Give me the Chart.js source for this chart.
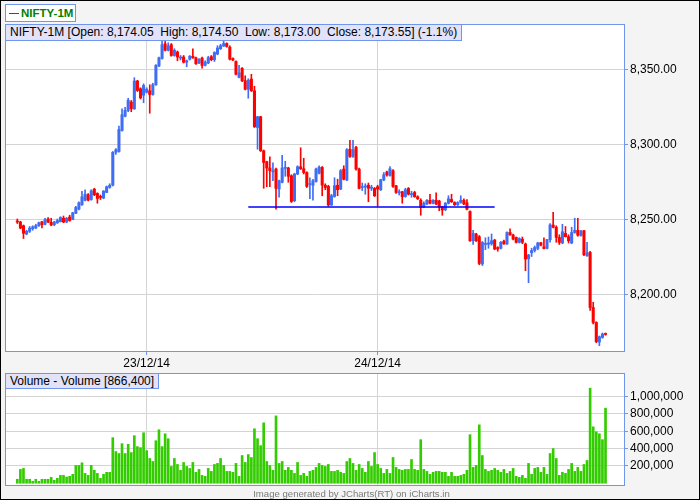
<!DOCTYPE html>
<html>
<head>
<meta charset="utf-8">
<title>NIFTY-1M</title>
<script src="https://cdn.jsdelivr.net/npm/chart.js@4.4.1/dist/chart.umd.min.js"></script>
<style>
  html, body { margin: 0; padding: 0; }
  body {
    width: 700px; height: 500px; position: relative; overflow: hidden;
    background: #f4f4f4; font-family: "Liberation Sans", Arial, sans-serif;
  }
  #frame { position: absolute; left: 0; top: 0; width: 698px; height: 498px; border: 1px solid #000; z-index: 9; pointer-events: none; }
  canvas { position: absolute; left: 0; }
  #priceChart { top: 0; }
  #volChart { top: 360px; }
  .tag {
    position: absolute; box-sizing: border-box; z-index: 5;
    background: #e2e2f8; border: 1px solid #6f96ec;
    font-size: 12px; line-height: 15px; color: #000; white-space: pre; padding: 0 4px;
  }
  #title {
    position: absolute; left: 5px; top: 4px; width: 71px; height: 18px; box-sizing: border-box;
    background: #fff; border: 1px solid #6f96ec; z-index: 5;
    color: #008000; font-weight: bold; font-size: 11.5px; line-height: 16px; padding-left: 3px; white-space: pre;
  }
  #title .dash { display: inline-block; width: 10px; height: 1px; background: #008000; vertical-align: middle; margin-right: 2px; }
  #footer { position: absolute; left: 0; width: 703px; top: 488px; text-align: center; font-size: 9.6px; color: #7a7a7a; z-index: 5; }
</style>
</head>
<body>
<div id="frame"></div>
<canvas id="priceChart" width="700" height="375"></canvas>
<canvas id="volChart" width="700" height="140"></canvas>
<div id="title"><span class="dash"></span>NIFTY-1M</div>
<div class="tag" style="left:5px; top:24px; height:17px;">NIFTY-1M [Open: 8,174.05  High: 8,174.50  Low: 8,173.00  Close: 8,173.55] (-1.1%)</div>
<div class="tag" style="left:5px; top:373px; height:16px;">Volume - Volume [866,400]</div>
<div id="footer">Image generated by JCharts(RT) on iCharts.in</div>
<script>
// 5 minute candles, 22/12 (last part) to 24/12/14
const opens = [
  8249, 8248.5, 8246, 8240.5, 8242.3, 8244, 8244.5, 8246, 8248.7, 8247,
  8250.5, 8248.3, 8246.7, 8248, 8248.7, 8251, 8248.5, 8251.8, 8250.2, 8254.2,
  8257.1, 8260, 8263, 8266.7, 8263.5, 8270.4, 8267.5, 8265.2, 8264.5, 8268.2,
  8271.5, 8273.1, 8295, 8295.5, 8309.5, 8319, 8322.9, 8328.5, 8324, 8342.5,
  8337.3, 8333, 8335, 8336, 8333.5, 8340, 8352.5, 8357.5, 8367.3, 8363,
  8366.7, 8359.5, 8361.8, 8357.8, 8358.5, 8355, 8357, 8359, 8358, 8354.5,
  8357.8, 8353, 8354.5, 8358.7, 8356.7, 8360.5, 8364, 8365.8, 8367.5, 8365,
  8357.5, 8355.5, 8345, 8351, 8342.7, 8337, 8343.8, 8336, 8311.5, 8318.7,
  8296, 8288.7, 8284.5, 8282, 8283.8, 8270.5, 8275, 8284.3, 8284.5, 8279.3,
  8262.7, 8280.5, 8285.3, 8284, 8281.5, 8273.5, 8273, 8275.5, 8281, 8284.9,
  8273, 8272.2, 8259.8, 8265.5, 8273, 8270.5, 8283.8, 8276.5, 8297, 8292.2,
  8298.2, 8283.8, 8271.5, 8271.8, 8273, 8271, 8270.9, 8272, 8270, 8276.5,
  8281.8, 8279.5, 8282.7, 8272.7, 8268, 8268.7, 8265.5, 8270.9, 8266.8, 8268.2,
  8265.3, 8263, 8258.5, 8260.5, 8263, 8261, 8263, 8262.5, 8258.7, 8256.7,
  8261, 8263.5, 8261.5, 8260, 8261.5, 8263, 8261.3, 8255.5, 8236, 8240.5,
  8238.7, 8220.5, 8233.5, 8233.7, 8234, 8236.4, 8231.5, 8231, 8235.7, 8233.8,
  8241.5, 8239.8, 8238.2, 8234.9, 8237, 8233.8, 8224, 8228, 8229.5, 8230.9,
  8234.7, 8232, 8230.9, 8236.7, 8246.5, 8245, 8238.2, 8234.5, 8240.9, 8238.7,
  8234.5, 8241.5, 8243, 8239.5, 8242.7, 8226, 8228.2, 8191.5, 8181.5, 8168.5,
  8171.5, 8174.05
];
const highs = [
  8250.5, 8249, 8246.5, 8243, 8245.5, 8246, 8247, 8248.5, 8249, 8251,
  8251.5, 8251, 8249, 8250.5, 8252, 8252.5, 8251.5, 8253, 8255, 8259,
  8262, 8268.9, 8270, 8267.5, 8270, 8271, 8268, 8266.5, 8269.5, 8272.5,
  8274, 8295.5, 8297.5, 8312.5, 8324, 8325, 8331, 8329.5, 8344.7, 8343,
  8338, 8340.6, 8338, 8340, 8341, 8353.5, 8358.5, 8369, 8369, 8368,
  8367.5, 8364, 8362.5, 8359.5, 8359.5, 8356.5, 8359.5, 8364, 8358.5, 8357.5,
  8358.5, 8356, 8359, 8359.5, 8362, 8366, 8367, 8370, 8368, 8366,
  8358, 8356, 8353, 8351.5, 8346, 8344, 8347, 8339, 8319, 8319,
  8296.5, 8289, 8292, 8288, 8284.5, 8276.5, 8293, 8289, 8285, 8280,
  8281, 8286, 8298, 8291, 8282, 8278, 8277, 8284.5, 8286, 8285.5,
  8274, 8273, 8267, 8278, 8277, 8283.5, 8286, 8297.5, 8303, 8303,
  8299, 8284.5, 8274.5, 8274, 8274.5, 8273, 8271.5, 8273, 8277, 8281.5,
  8282.5, 8285.5, 8283.5, 8273, 8270, 8269, 8271, 8271.5, 8269, 8269,
  8266, 8264, 8262, 8263.5, 8267, 8263.5, 8268, 8263, 8259, 8261.5,
  8266, 8267, 8262, 8262, 8266, 8264, 8263.5, 8256, 8243, 8241,
  8239.5, 8235.5, 8238, 8238.5, 8240.5, 8237, 8232, 8235.5, 8236.5, 8242,
  8244, 8240.5, 8238.5, 8238, 8238.5, 8234.5, 8227, 8231, 8232.5, 8235,
  8235, 8238, 8237, 8247.5, 8255, 8246, 8240, 8247, 8245.5, 8240,
  8245, 8251, 8251, 8243, 8243, 8235, 8229, 8195, 8182, 8172.5,
  8174.5, 8174.5
];
const lows = [
  8247.5, 8244, 8237.5, 8240, 8241.5, 8243, 8244, 8245.5, 8244.5, 8246.5,
  8248, 8246, 8246, 8247.5, 8248.5, 8248, 8248, 8249, 8250, 8254,
  8256.5, 8259.5, 8262.5, 8262.5, 8263, 8266, 8261, 8263.5, 8264, 8268,
  8271, 8272.5, 8293.5, 8295, 8309, 8318.5, 8322, 8322, 8323.5, 8335.5,
  8330.5, 8328, 8334.5, 8321, 8333, 8339.5, 8352, 8357, 8362.5, 8362.5,
  8359, 8359, 8356, 8356.5, 8354.5, 8352, 8356.5, 8357.5, 8353.5, 8354,
  8351, 8352.5, 8354, 8356, 8355.5, 8360, 8363.5, 8365.5, 8365, 8356.5,
  8356, 8346.5, 8344.5, 8342, 8336.5, 8331, 8335.5, 8311.5, 8297, 8295.5,
  8271, 8272, 8272, 8276, 8257, 8265, 8274.5, 8279, 8275, 8261.5,
  8262, 8280, 8283.5, 8280.5, 8271.5, 8264, 8263, 8275, 8280.5, 8266,
  8270, 8259, 8259.5, 8265, 8266, 8270, 8276.5, 8276, 8291.5, 8291.5,
  8283, 8270.5, 8269.5, 8267, 8262, 8269.5, 8265.5, 8259, 8269.5, 8276,
  8279, 8279, 8271.5, 8267.5, 8266.5, 8261, 8265, 8266.5, 8265, 8265,
  8263.5, 8253, 8258, 8260, 8260.5, 8260.5, 8260, 8256, 8253, 8256,
  8260.5, 8261.5, 8259.5, 8259.5, 8261, 8260, 8256.5, 8235.5, 8233.5, 8235.5,
  8220, 8219.5, 8230, 8231, 8233, 8230, 8229, 8230.5, 8233.5, 8233.5,
  8239.5, 8236.5, 8234.5, 8234.5, 8234, 8216, 8208, 8225.5, 8228.5, 8230,
  8232.5, 8230.5, 8230.5, 8235, 8244.5, 8235, 8233.5, 8234, 8238.5, 8234.5,
  8234, 8241, 8239, 8239, 8226, 8225.5, 8189.5, 8180.5, 8168, 8166,
  8171, 8173
];
const closes = [
  8248.5, 8244.5, 8241, 8242.3, 8244.4, 8245.3, 8246, 8248, 8246.7, 8250,
  8248.5, 8246.5, 8248.5, 8249.5, 8251.5, 8248.5, 8251, 8249.5, 8254.7, 8258.2,
  8261.3, 8265.3, 8267, 8263.1, 8269.3, 8266.7, 8264.2, 8264.9, 8269, 8272,
  8273, 8294.9, 8296.7, 8310.2, 8320, 8322.9, 8329.7, 8324, 8342.5, 8336.2,
  8331.3, 8339.5, 8337, 8333.5, 8340, 8352.9, 8358, 8366.7, 8363, 8366,
  8359.5, 8363, 8358.5, 8358.2, 8355, 8356, 8359, 8358, 8354, 8357,
  8352.9, 8355, 8358, 8356.7, 8361.5, 8364.5, 8366, 8367.5, 8365.5, 8357,
  8356.5, 8347, 8348, 8342.7, 8337, 8343, 8336, 8312, 8318.7, 8296,
  8288.2, 8284.5, 8282.7, 8282.3, 8270.9, 8276, 8284.5, 8284.6, 8279, 8262.2,
  8280.5, 8285.3, 8284, 8281.5, 8272.2, 8274, 8276, 8283.8, 8285, 8273.1,
  8271.5, 8259.8, 8266, 8272.7, 8270, 8282.7, 8277, 8296.7, 8292.2, 8296.7,
  8283.8, 8270.9, 8272, 8272.2, 8271, 8271.3, 8266, 8270.5, 8276.7, 8280,
  8279.9, 8284, 8272.2, 8268.2, 8268.3, 8265.3, 8270, 8267, 8267, 8265.3,
  8264, 8258.2, 8261, 8263, 8261, 8263, 8260.5, 8258.7, 8256.5, 8261,
  8264, 8262, 8260, 8261.5, 8263, 8260.5, 8257, 8236, 8240.9, 8236,
  8220.9, 8234.9, 8234.2, 8234.5, 8236, 8230.5, 8230.5, 8235, 8234, 8241.5,
  8240, 8237.1, 8234.9, 8237.5, 8235, 8223.8, 8226.5, 8229.5, 8231.5, 8234.5,
  8233, 8230.8, 8236.7, 8246.5, 8245, 8238.2, 8234.9, 8242, 8238.7, 8236,
  8241.5, 8243, 8239.7, 8242.5, 8226.7, 8228, 8191.5, 8181.5, 8168.7, 8172,
  8173.8, 8173.55
];
const volumes = [
  46000, 160000, 171000, 46000, 46000, 23000, 46000, 23000, 46000, 46000,
  46000, 69000, 34000, 57000, 91000, 91000, 72000, 80000, 103000, 206000,
  206000, 236000, 114000, 91000, 206000, 149000, 114000, 57000, 103000, 126000,
  126000, 526000, 366000, 343000, 457000, 343000, 450000, 354000, 549000, 423000,
  411000, 583000, 377000, 286000, 251000, 491000, 617000, 423000, 571000, 514000,
  194000, 286000, 217000, 149000, 240000, 194000, 171000, 240000, 126000, 160000,
  91000, 80000, 171000, 137000, 217000, 229000, 286000, 206000, 137000, 137000,
  126000, 229000, 80000, 320000, 240000, 331000, 297000, 629000, 514000, 434000,
  697000, 251000, 206000, 149000, 777000, 229000, 251000, 149000, 183000, 149000,
  114000, 240000, 91000, 114000, 80000, 137000, 149000, 183000, 229000, 206000,
  194000, 217000, 137000, 137000, 149000, 126000, 114000, 251000, 286000, 229000,
  149000, 217000, 171000, 126000, 251000, 194000, 354000, 217000, 171000, 114000,
  160000, 114000, 297000, 183000, 160000, 149000, 160000, 160000, 274000, 160000,
  149000, 503000, 160000, 137000, 103000, 126000, 137000, 137000, 126000, 126000,
  80000, 126000, 80000, 80000, 91000, 103000, 149000, 560000, 183000, 206000,
  674000, 320000, 160000, 137000, 149000, 171000, 149000, 126000, 160000, 114000,
  137000, 171000, 80000, 69000, 91000, 57000, 229000, 103000, 171000, 183000,
  126000, 183000, 103000, 343000, 400000, 286000, 91000, 126000, 114000, 160000,
  229000, 137000, 183000, 137000, 217000, 263000, 1097000, 651000, 594000, 571000,
  503000, 866400
];

const dayStarts = [42, 117];
const dayLabels = ['23/12/14', '24/12/14'];
const priceTicks = [8200, 8250, 8300, 8350];
const volumeTicks = [200000, 400000, 600000, 800000, 1000000];
const trendX = [75, 155];
const trendY = [8258.5, 8258.5];

const UP = '#3f6ef5';
const DOWN = '#ff0000';
const VOL = '#33cc00';
const FRAME = '#6f96ec';
const GRID = '#d4d4d4';

Chart.defaults.font.family = '"Liberation Sans", Arial, sans-serif';
Chart.defaults.font.size = 12;
Chart.defaults.color = '#000';

// white plot area and blue frame round it
const panelFrame = {
    id: 'panelFrame',
    beforeDraw(chart) {
        const { ctx, chartArea: a } = chart;
        ctx.save();
        ctx.fillStyle = '#fff';
        ctx.fillRect(a.left, a.top, a.right - a.left, a.bottom - a.top);
        ctx.restore();
    },
    afterDraw(chart) {
        const { ctx, chartArea: a } = chart;
        ctx.save();
        ctx.strokeStyle = FRAME;
        ctx.lineWidth = 1;
        ctx.strokeRect(Math.round(a.left) + 0.5, Math.round(a.top) + 0.5,
            Math.round(a.right - a.left), Math.round(a.bottom - a.top));
        ctx.restore();
    }
};

const candleColors = closes.map((c, i) => c >= opens[i] ? UP : DOWN);
const idx = closes.map((c, i) => i);

function xScale(showLabels) {
    return {
        type: 'linear',
        min: -4,
        max: 197,
        offset: false,
        afterBuildTicks: (s) => { s.ticks = dayStarts.map(v => ({ value: v })); },
        afterFit: (s) => { s.height = showLabels ? 24 : 15; },
        ticks: {
            display: showLabels,
            autoSkip: false,
            maxRotation: 0,
            padding: 1,
            callback: (v) => dayLabels[dayStarts.indexOf(v)] || ''
        },
        grid: { color: GRID, offset: false, drawTicks: showLabels, tickLength: 4, tickColor: FRAME },
        border: { display: false }
    };
}

function yScale(min, max, tickList, fmt) {
    return {
        type: 'linear',
        position: 'right',
        min: min,
        max: max,
        afterBuildTicks: (s) => { s.ticks = tickList.map(v => ({ value: v })); },
        afterFit: (s) => { s.width = 76; },
        ticks: { padding: 2, callback: fmt },
        grid: { color: GRID, tickLength: 4, tickColor: FRAME },
        border: { display: false }
    };
}

new Chart(document.getElementById('priceChart'), {
    type: 'bar',
    data: {
        datasets: [
            {
                type: 'line',
                data: trendX.map((x, i) => ({ x: x, y: trendY[i] })),
                borderColor: '#0000ff',
                borderWidth: 1.5,
                pointRadius: 0,
                order: 0
            },
            {
                data: idx.map(i => ({ x: i, y: [opens[i], closes[i]] })),
                backgroundColor: candleColors,
                barThickness: 2.4,
                minBarLength: 1,
                grouped: false,
                order: 1
            },
            {
                data: idx.map(i => ({ x: i, y: [lows[i], highs[i]] })),
                backgroundColor: candleColors,
                barThickness: 1,
                grouped: false,
                order: 2
            }
        ]
    },
    options: {
        responsive: false,
        animation: false,
        layout: { padding: { left: 5, top: 24, right: 0, bottom: 0 } },
        plugins: { legend: { display: false }, tooltip: { enabled: false } },
        scales: {
            x: xScale(true),
            y: yScale(8162.5, 8380.5, priceTicks,
                v => v.toLocaleString('en-US', { minimumFractionDigits: 2, maximumFractionDigits: 2 }))
        }
    },
    plugins: [panelFrame]
});

new Chart(document.getElementById('volChart'), {
    type: 'bar',
    data: {
        datasets: [{
            data: idx.map(i => ({ x: i, y: volumes[i] })),
            backgroundColor: VOL,
            barThickness: 2,
            grouped: false
        }]
    },
    options: {
        responsive: false,
        animation: false,
        layout: { padding: { left: 5, top: 13, right: 0, bottom: 0 } },
        plugins: { legend: { display: false }, tooltip: { enabled: false } },
        scales: {
            x: xScale(false),
            y: yScale(-20000, 1272000, volumeTicks, v => v.toLocaleString('en-US'))
        }
    },
    plugins: [panelFrame]
});
</script>
</body>
</html>
